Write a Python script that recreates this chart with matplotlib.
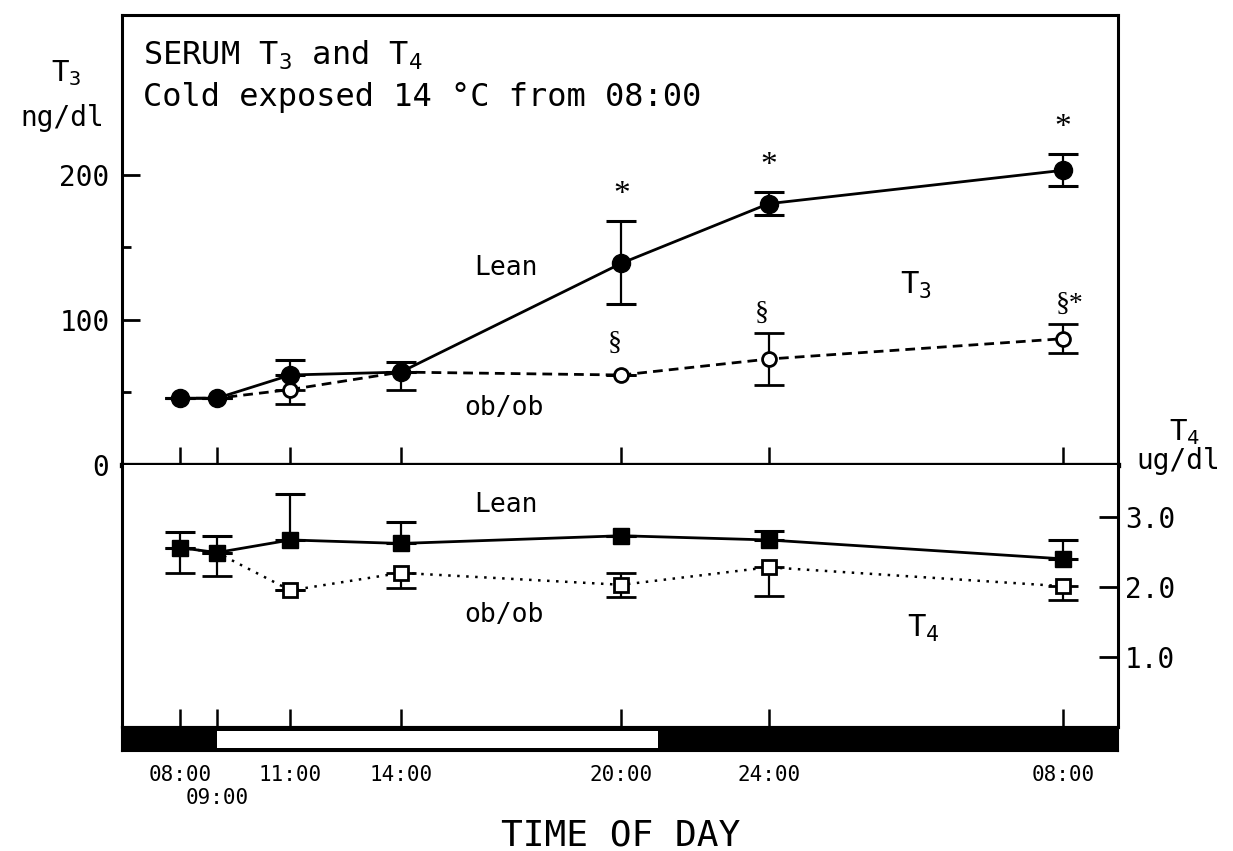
import matplotlib
matplotlib.use("Agg")
import matplotlib.pyplot as plt

plt.rcParams['font.family'] = 'DejaVu Sans Mono'
plt.rcParams['mathtext.fontset'] = 'custom'
plt.rcParams['mathtext.rm'] = 'DejaVu Sans Mono'
plt.rcParams['mathtext.it'] = 'DejaVu Sans Mono'
plt.rcParams['mathtext.bf'] = 'DejaVu Sans Mono'

# time axis (hours from midnight of day 1, 32 = 08:00 next day)
hours = [8, 9, 11, 14, 20, 24, 32]
hour_labels = ["08:00", "", "11:00", "14:00", "20:00", "24:00", "08:00"]
late_label_hour = 9
late_label = "09:00"
lights_on = 9
lights_off = 21

# serum T3, ng/dl
t3_lean = [46, 46, 62, 64, 139, 180, 203]
t3_lean_lo = [0, 0, 0, 0, 28, 8, 11]
t3_lean_hi = [0, 0, 10, 7, 29, 8, 11]
t3_ob = [46, 46, 52, 64, 62, 73, 87]
t3_ob_lo = [0, 0, 10, 12, 0, 18, 10]
t3_ob_hi = [0, 0, 0, 0, 0, 18, 10]
t3_lean_sig = ["", "", "", "", "*", "*", "*"]
t3_ob_sig = ["", "", "", "", "§", "§", "§*"]

# serum T4, ug/dl
t4_lean = [2.56, 2.49, 2.67, 2.62, 2.73, 2.67, 2.40]
t4_lean_lo = [0, 0, 0, 0, 0, 0, 0]
t4_lean_hi = [0.23, 0.23, 0.65, 0.30, 0, 0.13, 0.27]
t4_ob = [2.56, 2.49, 1.95, 2.20, 2.03, 2.28, 2.01]
t4_ob_lo = [0.36, 0.33, 0, 0.22, 0.17, 0.41, 0.19]
t4_ob_hi = [0, 0, 0, 0, 0.17, 0, 0]

W, H = 1233, 851


def box(left, top, right, bottom):
    return [left / W, 1 - bottom / H, (right - left) / W, (bottom - top) / H]


def px(x, y):
    return x / W, 1 - y / H


fig = plt.figure(figsize=(W / 100, H / 100), dpi=100)
ax3 = fig.add_axes(box(122, 15, 1118, 465))
ax4 = fig.add_axes(box(122, 465, 1118, 727), sharex=ax3)
axb = fig.add_axes(box(122, 727, 1118, 751), sharex=ax3)

ax3.set_xlim(6.42, 33.5)
ax3.set_ylim(0, 310)
ax4.set_ylim(0, 3.74)

serif = 'Liberation Serif'

# ---- T3 panel
ax3.errorbar(hours, t3_ob, yerr=[t3_ob_lo, t3_ob_hi], color='black', lw=2,
             linestyle=(0, (3.5, 2.2)), marker='o', ms=10, mfc='white', mec='black', mew=2,
             ecolor='black', elinewidth=1.6, capsize=11, capthick=2.2, zorder=3)
ax3.errorbar(hours, t3_lean, yerr=[t3_lean_lo, t3_lean_hi], color='black', lw=2,
             linestyle='-', marker='o', ms=13, mfc='black', mec='black',
             ecolor='black', elinewidth=1.6, capsize=11, capthick=2.2, zorder=4)

for h, v, hi, s in zip(hours, t3_lean, t3_lean_hi, t3_lean_sig):
    if s:
        ax3.annotate(s, (h, v + hi), xytext=(0, 19), textcoords='offset points',
                     ha='center', va='center', fontsize=24, family=serif)
for h, v, hi, s in zip(hours, t3_ob, t3_ob_hi, t3_ob_sig):
    if s:
        off = 14 if hi > 0 else 23
        ax3.annotate(s, (h, v + hi), xytext=(-5, off), textcoords='offset points',
                     ha='left' if len(s) > 1 else 'center', va='center',
                     fontsize=20, family=serif)

ax3.text(16.86, 136, "Lean", fontsize=19, ha='center', va='center')
ax3.text(16.8, 39, "ob/ob", fontsize=19, ha='center', va='center')
ax3.text(28.0, 124, "T$_3$", fontsize=22, ha='center', va='center')

ax3.text(0.021, 0.889, "SERUM T$_3$ and T$_4$", transform=ax3.transAxes,
         fontsize=23, ha='left', va='baseline')
ax3.text(0.021, 0.798, "Cold exposed 14 °C from 08:00", transform=ax3.transAxes,
         fontsize=23, ha='left', va='baseline')

ax3.set_yticks([0, 100, 200])
ax3.set_yticks([50, 150], minor=True)
ax3.set_yticklabels(["0", "100", "200"], fontsize=20)
ax3.tick_params(axis='y', which='major', direction='in', length=13, width=2, pad=9)
ax3.tick_params(axis='y', which='minor', direction='in', length=6.5, width=2)
ax3.set_xticks(hours)
ax3.tick_params(axis='x', direction='in', length=13, width=1.8, labelbottom=False)
for side in ['left', 'top', 'right']:
    ax3.spines[side].set_linewidth(2.2)
ax3.spines['bottom'].set_linewidth(3.8)

# ---- T4 panel
ax4.errorbar(hours, t4_ob, yerr=[t4_ob_lo, t4_ob_hi], color='black', lw=1.8,
             linestyle=(0, (1, 2.6)), marker='s', ms=10, mfc='white', mec='black', mew=2,
             ecolor='black', elinewidth=1.6, capsize=11, capthick=2.2, zorder=3)
ax4.errorbar(hours, t4_lean, yerr=[t4_lean_lo, t4_lean_hi], color='black', lw=2,
             linestyle='-', marker='s', ms=11.5, mfc='black', mec='black',
             ecolor='black', elinewidth=1.6, capsize=11, capthick=2.2, zorder=4)

ax4.text(16.86, 3.17, "Lean", fontsize=19, ha='center', va='center')
ax4.text(16.8, 1.6, "ob/ob", fontsize=19, ha='center', va='center')
ax4.text(28.2, 1.41, "T$_4$", fontsize=22, ha='center', va='center')

ax4.yaxis.tick_right()
ax4.set_yticks([1.0, 2.0, 3.0])
ax4.set_yticklabels(["1.0", "2.0", "3.0"], fontsize=20)
ax4.tick_params(axis='y', direction='in', length=14, width=2, pad=5)
ax4.tick_params(axis='x', direction='in', length=13, width=1.8, labelbottom=False)
ax4.spines['top'].set_visible(False)
for side in ['left', 'right', 'bottom']:
    ax4.spines[side].set_linewidth(2.2)

# ---- light/dark bar
axb.set_facecolor('black')
axb.set_ylim(0, 1)
axb.axvspan(lights_on, lights_off, ymin=0.13, ymax=0.83, color='white', lw=0)
axb.set_yticks([])
axb.xaxis.remove_overlapping_locs = False
axb.set_xticks(hours)
axb.set_xticklabels(hour_labels, fontsize=15)
axb.set_xticks([late_label_hour], [late_label], minor=True)
axb.tick_params(axis='x', which='major', length=0, pad=10)
axb.tick_params(axis='x', which='minor', length=0, pad=27, labelsize=15)
for side in axb.spines:
    axb.spines[side].set_linewidth(1.5)

# axis titles outside the frame
fig.text(*px(66, 73), "T$_3$", fontsize=21, ha='center', va='center')
fig.text(*px(62, 118), "ng/dl", fontsize=20, ha='center', va='center')
fig.text(*px(1185, 432), "T$_4$", fontsize=21, ha='center', va='center')
fig.text(*px(1178, 461), "ug/dl", fontsize=20, ha='center', va='center')
fig.text(*px(621, 835), "TIME OF DAY", fontsize=26, ha='center', va='center')

fig.savefig("out.png", dpi=100)
